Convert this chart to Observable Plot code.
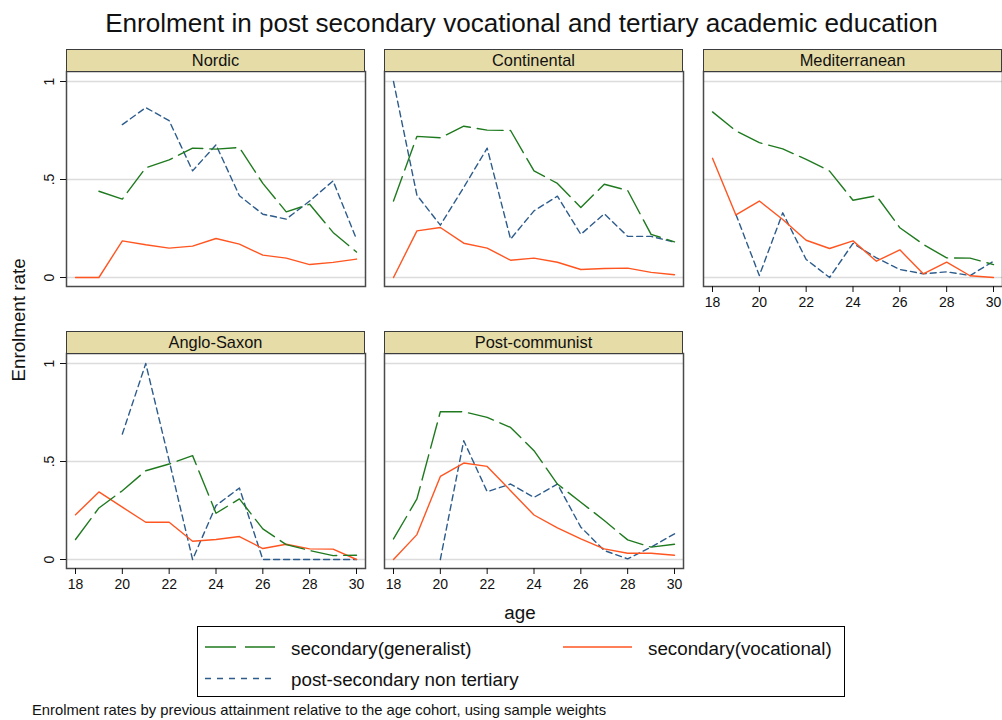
<!DOCTYPE html>
<html><head><meta charset="utf-8">
<script src="https://cdn.jsdelivr.net/npm/d3@7"></script>
<script src="https://cdn.jsdelivr.net/npm/@observablehq/plot@0.6"></script>
<style>
html,body{margin:0;padding:0;background:#fff;overflow:hidden;}
#root{position:relative;width:1002px;height:720px;font-family:"Liberation Sans",Arial,sans-serif;color:#111;}
.panel{position:absolute;}
.panel svg{max-width:none;overflow:visible;}
.strip{position:absolute;box-sizing:border-box;background:#e6dca8;border:1px solid #3c3c3c;font-size:16.4px;line-height:21px;text-align:center;color:#111;}
#overlay{position:absolute;left:0;top:0;pointer-events:none;}
</style></head><body><div id="root"></div>
<script>
// ---- data ----
const ages = [18,19,20,21,22,23,24,25,26,27,28,29,30];
const regions = ["Nordic","Continental","Mediterranean","Anglo-Saxon","Post-communist"];
const seriesNames = ["secondary(generalist)","secondary(vocational)","post-secondary non tertiary"];
const generalist = [
  [null,0.44,0.40,0.56,0.60,0.66,0.655,0.663,0.48,0.335,0.374,0.23,0.13],
  [0.39,0.72,0.713,0.772,0.752,0.75,0.544,0.48,0.357,0.476,0.444,0.22,0.182],
  [0.845,0.748,0.688,0.656,0.603,0.543,0.394,0.417,0.254,0.169,0.10,0.099,0.066],
  [0.102,0.263,0.351,0.453,0.487,0.53,0.236,0.309,0.156,0.076,0.046,0.02,0.022],
  [0.105,0.309,0.754,0.754,0.725,0.674,0.555,0.385,0.292,0.199,0.10,0.063,0.078]
];
const vocational = [
  [0,0,0.187,0.167,0.15,0.16,0.199,0.17,0.114,0.099,0.066,0.077,0.094],
  [0,0.238,0.255,0.175,0.15,0.088,0.099,0.078,0.041,0.046,0.048,0.026,0.014],
  [0.608,0.319,0.39,0.296,0.19,0.148,0.187,0.083,0.141,0.019,0.078,0.009,0],
  [0.228,0.345,0.267,0.19,0.19,0.093,0.102,0.117,0.056,0.078,0.054,0.053,0],
  [0,0.127,0.424,0.492,0.475,0.351,0.227,0.161,0.105,0.054,0.032,0.032,0.022]
];
const postSecondary = [
  [null,null,0.78,0.867,0.80,0.544,0.677,0.417,0.323,0.298,0.39,0.493,0.195],
  [1.0,0.42,0.267,0.46,0.66,0.196,0.34,0.415,0.22,0.325,0.21,0.21,0.18],
  [null,0.322,0.01,0.33,0.092,0,0.174,0.10,0.041,0.019,0.029,0.01,0.083],
  [null,null,0.64,1.0,0.504,0,0.275,0.365,0,0,0,0,0],
  [null,null,0,0.606,0.346,0.385,0.317,0.385,0.165,0.046,0.003,0.063,0.131]
];
const yTicks = [0,0.5,1];
const yTickLabels = ["0",".5","1"];
const xTicks = [18,20,22,24,26,28,30];
const titleText = "Enrolment in post secondary vocational and tertiary academic education";
const yLabel = "Enrolment rate";
const xLabel = "age";
const noteText = "Enrolment rates by previous attainment relative to the age cohort, using sample weights";

// ---- styles ----
const colors = ["#1f7a1f","#ff5520","#2d5c8c"];
const dashes = ["26,7","none","6,4"];

// ---- layout ----
const panelW = 299, panelH = 215;
const mL = 40, mT = 2, mR = 2, mB = 30;
const layout = [
  {left:66, top:71, yAxis:true, xAxis:false},
  {left:384, top:71, yAxis:false, xAxis:false},
  {left:703, top:71, yAxis:false, xAxis:true},
  {left:66, top:353, yAxis:true, xAxis:true},
  {left:384, top:353, yAxis:false, xAxis:true}
];

const root = document.getElementById("root");
const fontFamily = '"Liberation Sans", Arial, sans-serif';

regions.forEach((name, i) => {
  const L = layout[i];
  const rows = ages.map((a, j) => ({age: a, gen: generalist[i][j], voc: vocational[i][j], post: postSecondary[i][j]}));
  const marks = [
    Plot.gridY(yTicks, {stroke: "#dcdcdc", strokeOpacity: 1, strokeWidth: 1.5}),
    Plot.lineY(rows, {x: "age", y: "post", stroke: colors[2], strokeWidth: 1.4, strokeDasharray: dashes[2]}),
    Plot.lineY(rows, {x: "age", y: "voc", stroke: colors[1], strokeWidth: 1.4}),
    Plot.lineY(rows, {x: "age", y: "gen", stroke: colors[0], strokeWidth: 1.4, strokeDasharray: dashes[0]}),
    Plot.frame({stroke: "#4a4a4a", strokeWidth: 1.5})
  ];
  if (L.yAxis) marks.push(Plot.axisY(yTicks, {tickSize: 6, tickPadding: 7, tickRotate: -90, tickFormat: d => yTickLabels[yTicks.indexOf(d)], label: null}));
  if (L.xAxis) marks.push(Plot.axisX(xTicks, {tickSize: 6, tickPadding: 5, tickFormat: d => String(d), label: null}));
  const chart = Plot.plot({
    width: mL + panelW + mR,
    height: mT + panelH + mB,
    marginLeft: mL, marginTop: mT, marginRight: mR, marginBottom: mB,
    insetLeft: 9, insetRight: 9, insetTop: 10, insetBottom: 9,
    x: {domain: [18, 30], axis: L.xAxis ? undefined : null},
    y: {domain: [0, 1], axis: L.yAxis ? undefined : null},
    style: {background: "transparent", fontSize: "14px", fontFamily, color: "#111", overflow: "visible"},
    marks
  });
  const div = document.createElement("div");
  div.className = "panel";
  div.style.left = (L.left - mL) + "px";
  div.style.top = (L.top - mT) + "px";
  div.appendChild(chart);
  root.appendChild(div);
  const strip = document.createElement("div");
  strip.className = "strip";
  strip.style.left = L.left + "px";
  strip.style.top = (L.top - 22) + "px";
  strip.style.width = panelW + "px";
  strip.style.height = "23px";
  strip.textContent = name;
  root.appendChild(strip);
});

// ---- overlay: titles, legend, note ----
const svg = d3.select(root).append("svg").attr("id", "overlay")
  .attr("width", 1002).attr("height", 720)
  .style("font-family", fontFamily).style("fill", "#111");
svg.append("text").attr("x", 521.5).attr("y", 32).attr("text-anchor", "middle")
  .style("font-size", "26.1px").text(titleText);
svg.append("text").attr("transform", "translate(25,320) rotate(-90)").attr("text-anchor", "middle")
  .style("font-size", "18.8px").text(yLabel);
svg.append("text").attr("x", 520).attr("y", 619).attr("text-anchor", "middle")
  .style("font-size", "18.8px").text(xLabel);
svg.append("rect").attr("x", 197.5).attr("y", 626.5).attr("width", 647).attr("height", 70)
  .attr("fill", "none").attr("stroke", "#000").attr("stroke-width", 1);
const legendItems = [
  {s: 0, x1: 205, x2: 275, y: 647, tx: 291, ty: 654.5},
  {s: 1, x1: 563, x2: 632, y: 647, tx: 648, ty: 654.5},
  {s: 2, x1: 205, x2: 275, y: 678.5, tx: 291, ty: 686}
];
legendItems.forEach(it => {
  svg.append("line").attr("x1", it.x1).attr("x2", it.x2).attr("y1", it.y).attr("y2", it.y)
    .attr("stroke", colors[it.s]).attr("stroke-width", 1.5)
    .attr("stroke-dasharray", it.s === 0 ? "31,9" : it.s === 2 ? "6,6" : null);
  svg.append("text").attr("x", it.tx).attr("y", it.ty).style("font-size", "18.8px").text(seriesNames[it.s]);
});
svg.append("text").attr("x", 32).attr("y", 715).style("font-size", "14.8px").text(noteText);
</script>
</body></html>
